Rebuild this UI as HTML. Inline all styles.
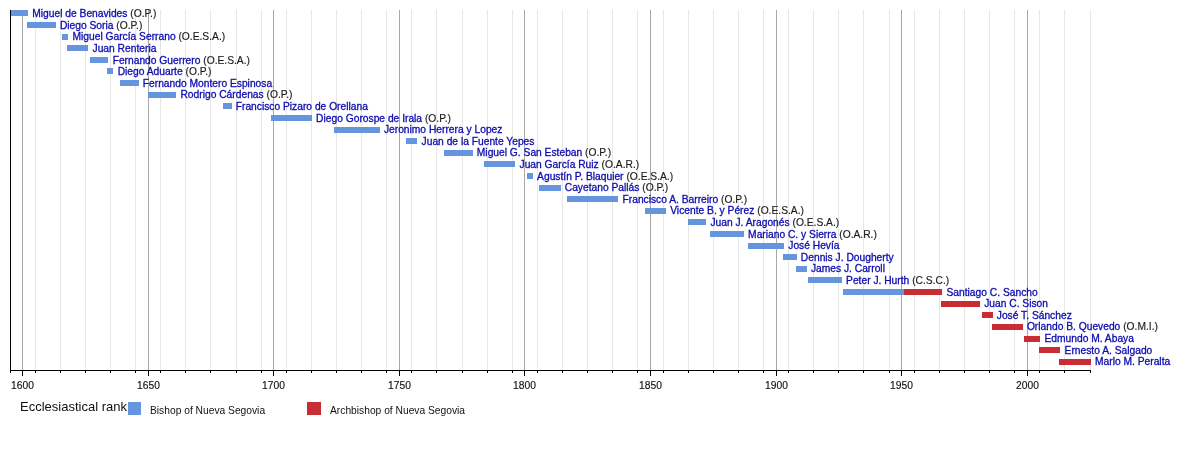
<!DOCTYPE html>
<html><head><meta charset="utf-8"><style>
html,body{margin:0;padding:0;background:#fff;}
body{width:1200px;height:450px;position:relative;overflow:hidden;font-family:"Liberation Sans",sans-serif;}
i{position:absolute;display:block;}
#w{position:absolute;left:0;top:0;width:1200px;height:450px;will-change:transform;}
.gm{top:10px;height:360px;width:1px;background:#e6e6e6;}
.gM{top:10px;height:360px;width:1px;background:#a8a8a8;}
.bar{height:6px;}
.lab{position:absolute;white-space:nowrap;font-size:10.25px;line-height:0;height:0;-webkit-text-stroke:0.3px currentColor;}
.lab .a{color:#0c0cae;}
.lab .k{color:#1a1a1a;-webkit-text-stroke:0.15px #1a1a1a;}
.axv{left:10px;top:10px;width:1px;height:361px;background:#000;}
.axh{left:10px;top:370px;width:1081px;height:1px;background:#000;}
.tm{top:370px;height:3px;width:1px;background:#000;}
.tM{top:370px;height:6px;width:1px;background:#000;}
.yr{position:absolute;top:379px;width:61px;text-align:center;font-size:10.25px;line-height:14px;color:#111;-webkit-text-stroke:0.15px #111;}
.leg{position:absolute;white-space:nowrap;color:#111;}
</style></head><body><div id="w">
<i class="gm" style="left:35px"></i>
<i class="gm" style="left:60px"></i>
<i class="gm" style="left:85px"></i>
<i class="gm" style="left:110px"></i>
<i class="gm" style="left:135px"></i>
<i class="gm" style="left:160px"></i>
<i class="gm" style="left:185px"></i>
<i class="gm" style="left:210px"></i>
<i class="gm" style="left:236px"></i>
<i class="gm" style="left:261px"></i>
<i class="gm" style="left:286px"></i>
<i class="gm" style="left:311px"></i>
<i class="gm" style="left:336px"></i>
<i class="gm" style="left:361px"></i>
<i class="gm" style="left:386px"></i>
<i class="gm" style="left:411px"></i>
<i class="gm" style="left:436px"></i>
<i class="gm" style="left:462px"></i>
<i class="gm" style="left:487px"></i>
<i class="gm" style="left:512px"></i>
<i class="gm" style="left:537px"></i>
<i class="gm" style="left:562px"></i>
<i class="gm" style="left:587px"></i>
<i class="gm" style="left:612px"></i>
<i class="gm" style="left:637px"></i>
<i class="gm" style="left:663px"></i>
<i class="gm" style="left:688px"></i>
<i class="gm" style="left:713px"></i>
<i class="gm" style="left:738px"></i>
<i class="gm" style="left:763px"></i>
<i class="gm" style="left:788px"></i>
<i class="gm" style="left:813px"></i>
<i class="gm" style="left:838px"></i>
<i class="gm" style="left:863px"></i>
<i class="gm" style="left:889px"></i>
<i class="gm" style="left:914px"></i>
<i class="gm" style="left:939px"></i>
<i class="gm" style="left:964px"></i>
<i class="gm" style="left:989px"></i>
<i class="gm" style="left:1014px"></i>
<i class="gm" style="left:1039px"></i>
<i class="gm" style="left:1064px"></i>
<i class="gm" style="left:1090px"></i>
<i class="gM" style="left:22px"></i>
<i class="gM" style="left:148px"></i>
<i class="gM" style="left:273px"></i>
<i class="gM" style="left:399px"></i>
<i class="gM" style="left:524px"></i>
<i class="gM" style="left:650px"></i>
<i class="gM" style="left:776px"></i>
<i class="gM" style="left:901px"></i>
<i class="gM" style="left:1027px"></i>
<i class="bar" style="left:11px;top:10px;width:17px;background:#6595dc"></i>
<div class="lab" style="left:32.28px;top:14px"><span class="a">Miguel de Benavides</span> <span class="k">(O.P.)</span></div>
<i class="bar" style="left:27px;top:22px;width:29px;background:#6595dc"></i>
<div class="lab" style="left:59.91px;top:26px"><span class="a">Diego Soria</span> <span class="k">(O.P.)</span></div>
<i class="bar" style="left:62px;top:34px;width:6px;background:#6595dc"></i>
<div class="lab" style="left:72.47px;top:37px"><span class="a">Miguel García Serrano</span> <span class="k">(O.E.S.A.)</span></div>
<i class="bar" style="left:67px;top:45px;width:21px;background:#6595dc"></i>
<div class="lab" style="left:92.56px;top:49px"><span class="a">Juan Renteria</span></div>
<i class="bar" style="left:90px;top:57px;width:18px;background:#6595dc"></i>
<div class="lab" style="left:112.65px;top:61px"><span class="a">Fernando Guerrero</span> <span class="k">(O.E.S.A.)</span></div>
<i class="bar" style="left:107px;top:68px;width:6px;background:#6595dc"></i>
<div class="lab" style="left:117.68px;top:72px"><span class="a">Diego Aduarte</span> <span class="k">(O.P.)</span></div>
<i class="bar" style="left:120px;top:80px;width:19px;background:#6595dc"></i>
<div class="lab" style="left:142.79px;top:84px"><span class="a">Fernando Montero Espinosa</span></div>
<i class="bar" style="left:148px;top:92px;width:28px;background:#6595dc"></i>
<div class="lab" style="left:180.47px;top:95px"><span class="a">Rodrigo Cárdenas</span> <span class="k">(O.P.)</span></div>
<i class="bar" style="left:223px;top:103px;width:9px;background:#6595dc"></i>
<div class="lab" style="left:235.72px;top:107px"><span class="a">Francisco Pizaro de Orellana</span></div>
<i class="bar" style="left:271px;top:115px;width:41px;background:#6595dc"></i>
<div class="lab" style="left:316.10px;top:119px"><span class="a">Diego Gorospe de Irala</span> <span class="k">(O.P.)</span></div>
<i class="bar" style="left:334px;top:127px;width:46px;background:#6595dc"></i>
<div class="lab" style="left:383.91px;top:130px"><span class="a">Jeronimo Herrera y Lopez</span></div>
<i class="bar" style="left:406px;top:138px;width:11px;background:#6595dc"></i>
<div class="lab" style="left:421.58px;top:142px"><span class="a">Juan de la Fuente Yepes</span></div>
<i class="bar" style="left:444px;top:150px;width:29px;background:#6595dc"></i>
<div class="lab" style="left:476.84px;top:153px"><span class="a">Miguel G. San Esteban</span> <span class="k">(O.P.)</span></div>
<i class="bar" style="left:484px;top:161px;width:31px;background:#6595dc"></i>
<div class="lab" style="left:519.54px;top:165px"><span class="a">Juan García Ruiz</span> <span class="k">(O.A.R.)</span></div>
<i class="bar" style="left:527px;top:173px;width:6px;background:#6595dc"></i>
<div class="lab" style="left:537.12px;top:177px"><span class="a">Agustín P. Blaquier</span> <span class="k">(O.E.S.A.)</span></div>
<i class="bar" style="left:539px;top:185px;width:22px;background:#6595dc"></i>
<div class="lab" style="left:564.75px;top:188px"><span class="a">Cayetano Pallás</span> <span class="k">(O.P.)</span></div>
<i class="bar" style="left:567px;top:196px;width:51px;background:#6595dc"></i>
<div class="lab" style="left:622.51px;top:200px"><span class="a">Francisco A. Barreiro</span> <span class="k">(O.P.)</span></div>
<i class="bar" style="left:645px;top:208px;width:21px;background:#6595dc"></i>
<div class="lab" style="left:670.23px;top:211px"><span class="a">Vicente B. y Pérez</span> <span class="k">(O.E.S.A.)</span></div>
<i class="bar" style="left:688px;top:219px;width:18px;background:#6595dc"></i>
<div class="lab" style="left:710.42px;top:223px"><span class="a">Juan J. Aragonés</span> <span class="k">(O.E.S.A.)</span></div>
<i class="bar" style="left:710px;top:231px;width:34px;background:#6595dc"></i>
<div class="lab" style="left:748.10px;top:235px"><span class="a">Mariano C. y Sierra</span> <span class="k">(O.A.R.)</span></div>
<i class="bar" style="left:748px;top:243px;width:36px;background:#6595dc"></i>
<div class="lab" style="left:788.28px;top:246px"><span class="a">José Hevía</span></div>
<i class="bar" style="left:783px;top:254px;width:14px;background:#6595dc"></i>
<div class="lab" style="left:800.84px;top:258px"><span class="a">Dennis J. Dougherty</span></div>
<i class="bar" style="left:796px;top:266px;width:11px;background:#6595dc"></i>
<div class="lab" style="left:810.89px;top:269px"><span class="a">James J. Carroll</span></div>
<i class="bar" style="left:808px;top:277px;width:34px;background:#6595dc"></i>
<div class="lab" style="left:846.05px;top:281px"><span class="a">Peter J. Hurth</span> <span class="k">(C.S.C.)</span></div>
<i class="bar" style="left:843px;top:289px;width:62px;background:#6595dc"></i>
<i class="bar" style="left:904px;top:289px;width:38px;background:#c72d33"></i>
<div class="lab" style="left:946.51px;top:293px"><span class="a">Santiago C. Sancho</span></div>
<i class="bar" style="left:941px;top:301px;width:39px;background:#c72d33"></i>
<div class="lab" style="left:984.19px;top:304px"><span class="a">Juan C. Sison</span></div>
<i class="bar" style="left:982px;top:312px;width:11px;background:#c72d33"></i>
<div class="lab" style="left:996.75px;top:316px"><span class="a">José T. Sánchez</span></div>
<i class="bar" style="left:992px;top:324px;width:31px;background:#c72d33"></i>
<div class="lab" style="left:1026.89px;top:327px"><span class="a">Orlando B. Quevedo</span> <span class="k">(O.M.I.)</span></div>
<i class="bar" style="left:1024px;top:336px;width:16px;background:#c72d33"></i>
<div class="lab" style="left:1044.47px;top:339px"><span class="a">Edmundo M. Abaya</span></div>
<i class="bar" style="left:1039px;top:347px;width:21px;background:#c72d33"></i>
<div class="lab" style="left:1064.56px;top:351px"><span class="a">Ernesto A. Salgado</span></div>
<i class="bar" style="left:1059px;top:359px;width:32px;background:#c72d33"></i>
<div class="lab" style="left:1095.00px;top:362px"><span class="a">Marlo M. Peralta</span></div>
<i class="axv"></i><i class="axh"></i>
<i class="tm" style="left:10px"></i>
<i class="tm" style="left:35px"></i>
<i class="tm" style="left:60px"></i>
<i class="tm" style="left:85px"></i>
<i class="tm" style="left:110px"></i>
<i class="tm" style="left:135px"></i>
<i class="tm" style="left:160px"></i>
<i class="tm" style="left:185px"></i>
<i class="tm" style="left:210px"></i>
<i class="tm" style="left:236px"></i>
<i class="tm" style="left:261px"></i>
<i class="tm" style="left:286px"></i>
<i class="tm" style="left:311px"></i>
<i class="tm" style="left:336px"></i>
<i class="tm" style="left:361px"></i>
<i class="tm" style="left:386px"></i>
<i class="tm" style="left:411px"></i>
<i class="tm" style="left:436px"></i>
<i class="tm" style="left:462px"></i>
<i class="tm" style="left:487px"></i>
<i class="tm" style="left:512px"></i>
<i class="tm" style="left:537px"></i>
<i class="tm" style="left:562px"></i>
<i class="tm" style="left:587px"></i>
<i class="tm" style="left:612px"></i>
<i class="tm" style="left:637px"></i>
<i class="tm" style="left:663px"></i>
<i class="tm" style="left:688px"></i>
<i class="tm" style="left:713px"></i>
<i class="tm" style="left:738px"></i>
<i class="tm" style="left:763px"></i>
<i class="tm" style="left:788px"></i>
<i class="tm" style="left:813px"></i>
<i class="tm" style="left:838px"></i>
<i class="tm" style="left:863px"></i>
<i class="tm" style="left:889px"></i>
<i class="tm" style="left:914px"></i>
<i class="tm" style="left:939px"></i>
<i class="tm" style="left:964px"></i>
<i class="tm" style="left:989px"></i>
<i class="tm" style="left:1014px"></i>
<i class="tm" style="left:1039px"></i>
<i class="tm" style="left:1064px"></i>
<i class="tm" style="left:1090px"></i>
<i class="tM" style="left:22px"></i>
<div class="yr" style="left:-8px">1600</div>
<i class="tM" style="left:148px"></i>
<div class="yr" style="left:118px">1650</div>
<i class="tM" style="left:273px"></i>
<div class="yr" style="left:243px">1700</div>
<i class="tM" style="left:399px"></i>
<div class="yr" style="left:369px">1750</div>
<i class="tM" style="left:524px"></i>
<div class="yr" style="left:494px">1800</div>
<i class="tM" style="left:650px"></i>
<div class="yr" style="left:620px">1850</div>
<i class="tM" style="left:776px"></i>
<div class="yr" style="left:746px">1900</div>
<i class="tM" style="left:901px"></i>
<div class="yr" style="left:871px">1950</div>
<i class="tM" style="left:1027px"></i>
<div class="yr" style="left:997px">2000</div>
<div class="leg" style="left:20px;top:399px;font-size:13px;line-height:16px;">Ecclesiastical rank</div>
<i style="left:128px;top:402px;width:13px;height:13px;background:#6595dc"></i>
<div class="leg" style="left:150px;top:404px;font-size:10.25px;line-height:14px;">Bishop of Nueva Segovia</div>
<i style="left:307px;top:402px;width:14px;height:13px;background:#c72d33"></i>
<div class="leg" style="left:330px;top:404px;font-size:10.25px;line-height:14px;">Archbishop of Nueva Segovia</div>
</div></body></html>
